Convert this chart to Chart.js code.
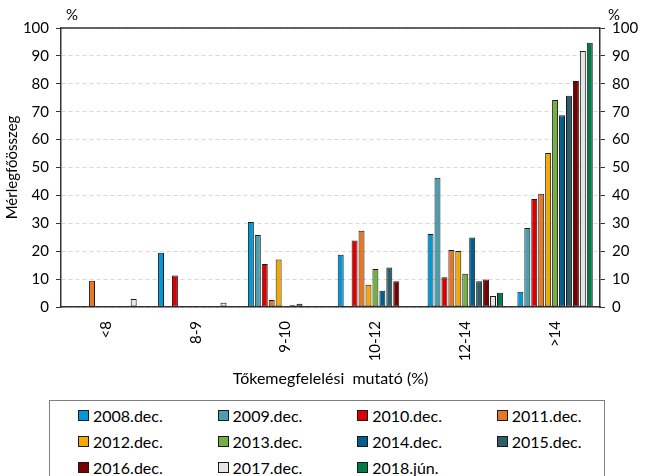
<!DOCTYPE html>
<html>
<head>
<meta charset="utf-8">
<script src="https://cdn.jsdelivr.net/npm/chart.js@4.4.1/dist/chart.umd.min.js"></script>
<style>
  body { margin: 0; background: #fff; width: 648px; height: 476px; overflow: hidden; position: relative; font-family: Lato, sans-serif; }
  #wrap { position: absolute; left: 0; top: 0; width: 648px; height: 392px; }
  #legend {
    position: absolute; left: 49px; top: 400px; width: 556px; height: 90px;
    border: 1px solid #7f7f7f; box-sizing: border-box;
    display: grid; grid-template-columns: repeat(4, 139.6px); grid-auto-rows: 26px;
    padding-left: 28px; padding-top: 1px; align-items: center;
    font-size: 16px; color: #000;
  }
  .item { display: flex; align-items: center; white-space: nowrap; }
  .sw { width: 11px; height: 11px; box-sizing: border-box; border: 1px solid #1a1a1a; margin-right: 4px; }
</style>
</head>
<body>
<div id="wrap"><canvas id="c"></canvas></div>
<div id="legend"></div>
<script>
const categories = ['<8', '8-9', '9-10', '10-12', '12-14', '>14'];
const seriesNames = ['2008.dec.', '2009.dec.', '2010.dec.', '2011.dec.', '2012.dec.', '2013.dec.',
  '2014.dec.', '2015.dec.', '2016.dec.', '2017.dec.', '2018.jún.'];
const seriesColors = ['#0098d8', '#4a9fae', '#dd0000', '#e87722', '#f5a800', '#72b043',
  '#005f8f', '#2d5f6b', '#7b0000', '#e6e6e6', '#007a48'];

const v2008 = [0, 19.4, 30.5, 18.7, 26.2, 5.5];
const v2009 = [0, 0, 25.8, 0.4, 46.3, 28.3];
const v2010 = [0, 11.3, 15.4, 23.8, 10.7, 38.7];
const v2011 = [9.4, 0, 2.5, 27.3, 20.4, 40.6];
const v2012 = [0, 0, 17.0, 8.0, 20.1, 55.2];
const v2013 = [0, 0, 0.2, 13.6, 11.9, 74.2];
const v2014 = [0, 0, 0.6, 5.8, 24.9, 68.7];
const v2015 = [0, 0, 1.2, 14.2, 9.2, 75.7];
const v2016 = [0, 0, 0, 9.2, 9.9, 81.0];
const v2017 = [2.9, 1.5, 0, 0, 3.9, 91.8];
const v2018 = [0, 0, 0, 0, 5.1, 94.7];
const seriesValues = [v2008, v2009, v2010, v2011, v2012, v2013, v2014, v2015, v2016, v2017, v2018];

const yTicks = [0, 10, 20, 30, 40, 50, 60, 70, 80, 90, 100];

const axisColor = '#333';
const font = { family: 'Lato', size: 15 };

const datasets = seriesNames.map((name, i) => ({
  label: name,
  data: seriesValues[i].map(v => v === 0 ? null : v),
  backgroundColor: seriesColors[i],
  borderColor: '#1a1a1a',
  borderWidth: 1,
  borderSkipped: false,
  categoryPercentage: 0.85,
  barPercentage: 0.86
}));

// percent signs above both axes + top frame line
const extras = {
  id: 'extras',
  afterDraw(chart) {
    const { ctx, chartArea } = chart;
    ctx.save();
    ctx.strokeStyle = axisColor;
    ctx.lineWidth = 1.5;
    ctx.beginPath();
    ctx.moveTo(chartArea.left, chartArea.top);
    ctx.lineTo(chartArea.right, chartArea.top);
    ctx.stroke();
    ctx.fillStyle = '#000';
    ctx.font = '15px Lato';
    ctx.textAlign = 'center';
    ctx.textBaseline = 'middle';
    ctx.fillText('%', 72, 15);
    ctx.fillText('%', 614, 15);
    ctx.restore();
  }
};

new Chart(document.getElementById('c'), {
  type: 'bar',
  data: { labels: categories, datasets },
  options: {
    responsive: true,
    maintainAspectRatio: false,
    animation: false,
    layout: { padding: { top: 28, left: 0, right: 0, bottom: 0 } },
    plugins: { legend: { display: false }, tooltip: { enabled: false } },
    scales: {
      x: {
        grid: { display: false, drawTicks: false },
        border: { color: axisColor, width: 1.5 },
        ticks: { color: '#000', font, minRotation: 90, maxRotation: 90, padding: 14 },
        title: { display: true, text: 'Tőkemegfelelési  mutató (%)', color: '#000',
          font: { family: 'Lato', size: 16 }, padding: { top: 4, bottom: 4 } },
        afterFit(s) { s.height = 85; }
      },
      y: {
        min: 0, max: 100,
        afterBuildTicks(s) { s.ticks = yTicks.map(v => ({ value: v })); },
        grid: { color: '#d9d9d9', tickColor: axisColor, tickLength: 5, tickBorderDash: [] },
        border: { color: axisColor, width: 1.5, dash: [4, 3] },
        ticks: { color: '#000', font, padding: 7 },
        title: { display: true, text: 'Mérlegfőösszeg', color: '#000', font, padding: { top: 3, bottom: 0 } },
        afterFit(s) { s.width = 61; }
      },
      y2: {
        position: 'right',
        min: 0, max: 100,
        afterBuildTicks(s) { s.ticks = yTicks.map(v => ({ value: v })); },
        grid: { drawOnChartArea: false, tickColor: axisColor, tickLength: 5 },
        border: { color: axisColor, width: 1.5 },
        ticks: { color: '#000', font, padding: 7 },
        afterFit(s) { s.width = 48; }
      }
    }
  },
  plugins: [extras]
});

const legend = document.getElementById('legend');
seriesNames.forEach((name, i) => {
  const item = document.createElement('div');
  item.className = 'item';
  const sw = document.createElement('span');
  sw.className = 'sw';
  sw.style.background = seriesColors[i];
  const txt = document.createElement('span');
  txt.textContent = name;
  item.appendChild(sw);
  item.appendChild(txt);
  legend.appendChild(item);
});
</script>
</body>
</html>
